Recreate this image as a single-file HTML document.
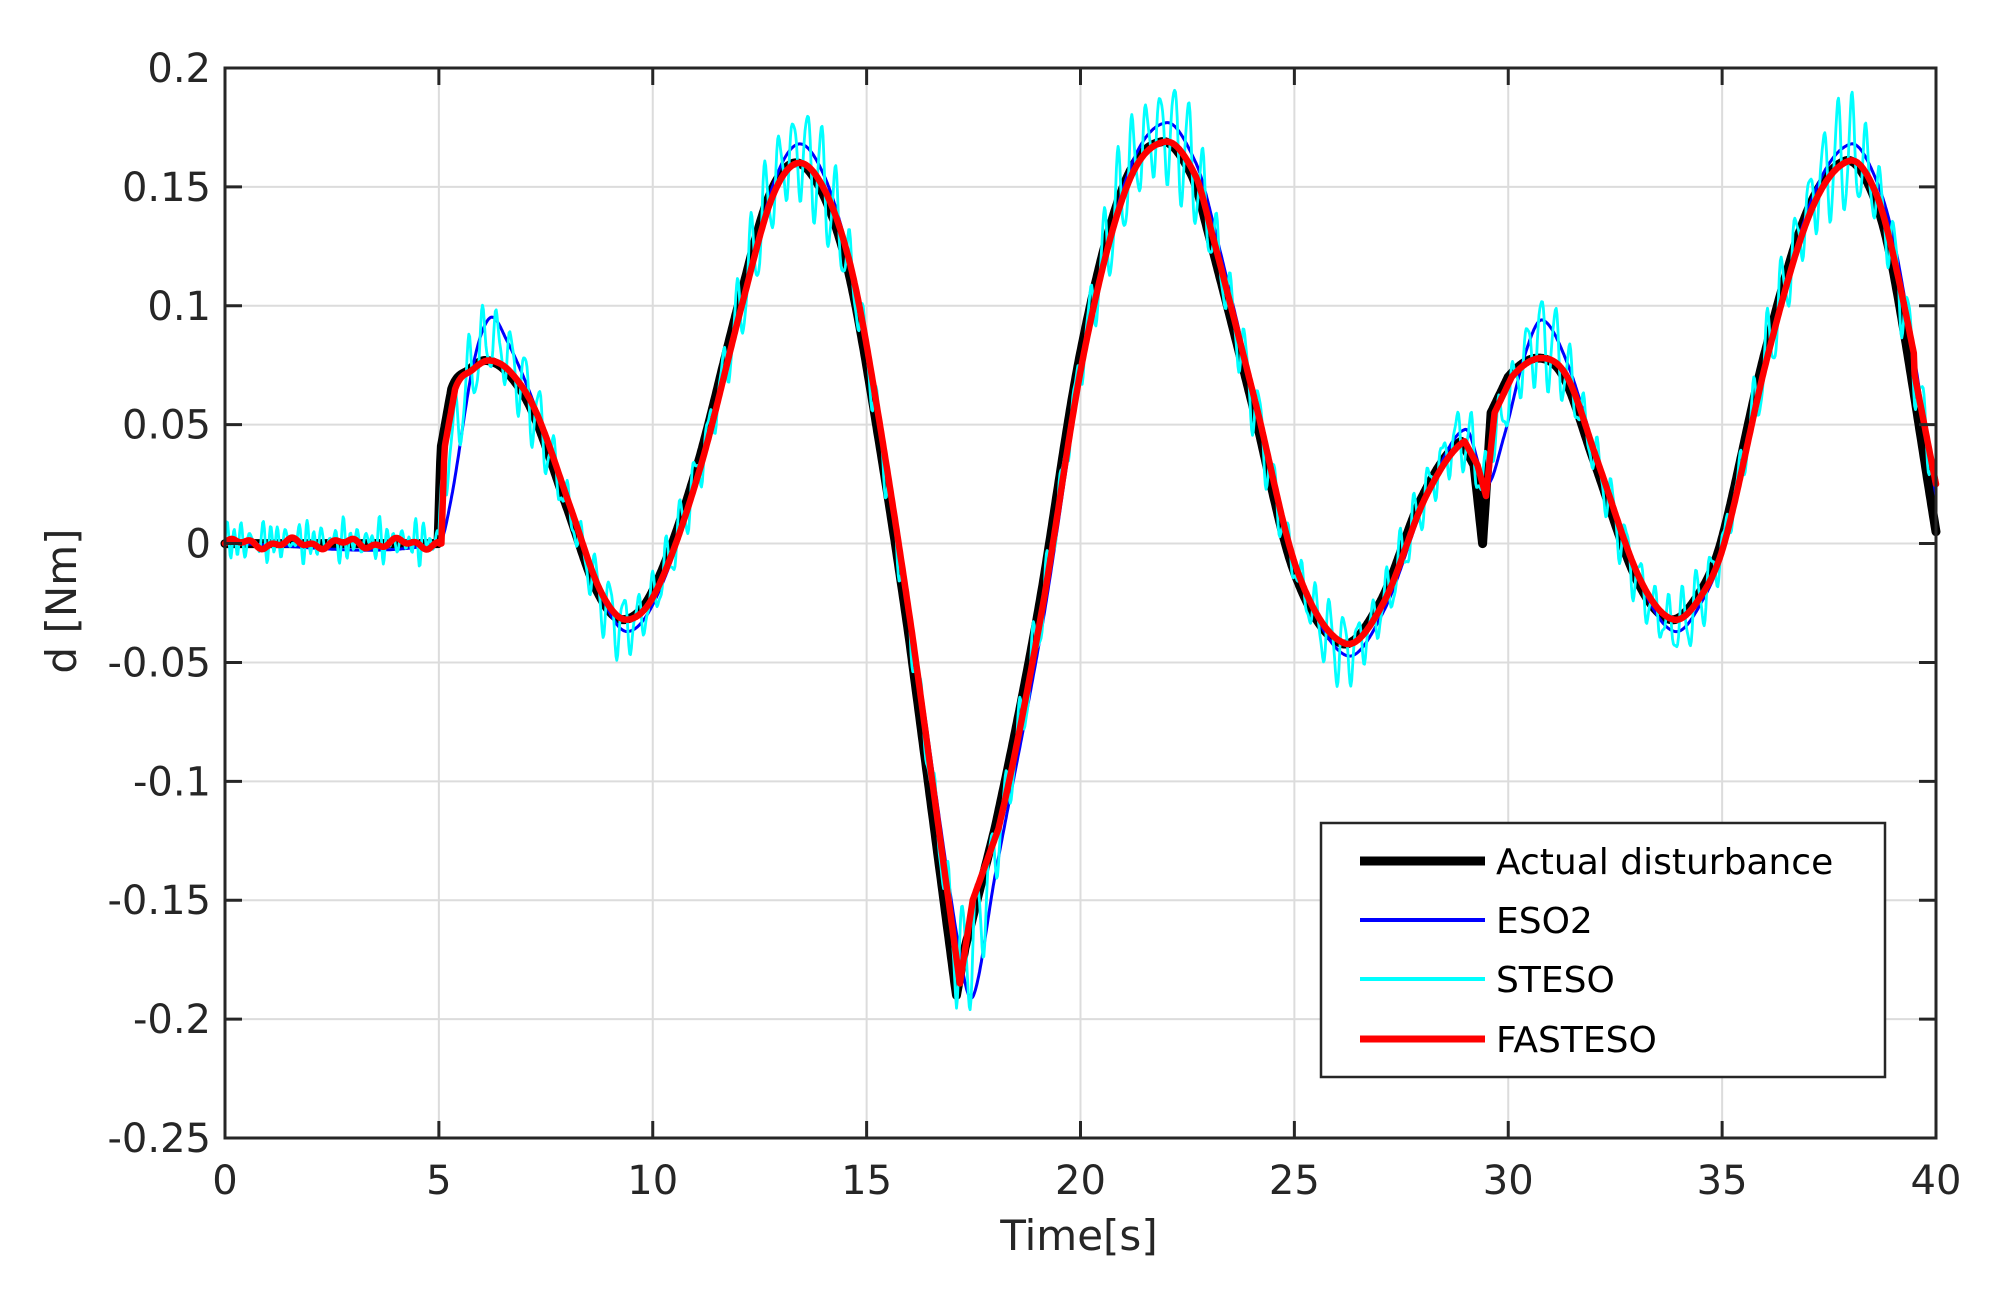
<!DOCTYPE html>
<html><head><meta charset="utf-8"><style>
html,body{margin:0;padding:0;background:#fff}
svg{display:block}
text{font-family:"DejaVu Sans","Liberation Sans",sans-serif;fill:#262626}
</style></head><body>
<svg id="s" width="1999" height="1298" viewBox="0 0 1999 1298" xmlns="http://www.w3.org/2000/svg">
<rect width="1999" height="1298" fill="#fff"/>
<g id="grid" stroke="#dcdcdc" stroke-width="2"></g>
<g id="series" fill="none" stroke-linejoin="round" stroke-linecap="round"></g>
<g id="axes" stroke="#262626" stroke-width="3" fill="none"></g>
<g id="labels" font-size="40"></g>
<text x="1079" y="1250" font-size="42" text-anchor="middle">Time[s]</text>
<text transform="translate(76,601) rotate(-90)" font-size="42" text-anchor="middle">d [Nm]</text>
<rect x="1321" y="823" width="564" height="254" fill="#fff" stroke="#262626" stroke-width="2.5"/>
<line x1="1360" y1="861" x2="1485" y2="861" stroke="#000" stroke-width="9"/>
<line x1="1360" y1="920" x2="1485" y2="920" stroke="#0000ff" stroke-width="4"/>
<line x1="1360" y1="979" x2="1485" y2="979" stroke="#00ffff" stroke-width="4"/>
<line x1="1360" y1="1039" x2="1485" y2="1039" stroke="#ff0000" stroke-width="7"/>
<g font-size="36" style="fill:#000">
<text x="1496" y="874" style="fill:#000">Actual disturbance</text>
<text x="1496" y="933" style="fill:#000">ESO2</text>
<text x="1496" y="992" style="fill:#000">STESO</text>
<text x="1496" y="1052" style="fill:#000">FASTESO</text>
</g>
</svg>
<script>
var X0=225,X1=1936,Y0=68,Y1=1138;
function X(t){return X0+t*(X1-X0)/40}
function Y(v){return Y0+(0.2-v)*(Y1-Y0)/0.45}
var NS="http://www.w3.org/2000/svg";
function el(p,n,a){var e=document.createElementNS(NS,n);for(var k in a)e.setAttribute(k,a[k]);p.appendChild(e);return e}
var grid=document.getElementById('grid'),axes=document.getElementById('axes'),lab=document.getElementById('labels');
for(var i=0;i<=8;i++){var x=X(i*5);if(i>0&&i<8)el(grid,'line',{x1:x,y1:Y0,x2:x,y2:Y1});
 el(axes,'line',{x1:x,y1:Y1,x2:x,y2:Y1-17});el(axes,'line',{x1:x,y1:Y0,x2:x,y2:Y0+17});
 var t=el(lab,'text',{x:x,y:Y1+56,'text-anchor':'middle'});t.textContent=String(i*5);}
var yl=['0.2','0.15','0.1','0.05','0','-0.05','-0.1','-0.15','-0.2','-0.25'];
for(var j=0;j<10;j++){var v=0.2-j*0.05,y=Y(v);if(j>0&&j<9)el(grid,'line',{x1:X0,y1:y,x2:X1,y2:y});
 el(axes,'line',{x1:X0,y1:y,x2:X0+17,y2:y});el(axes,'line',{x1:X1,y1:y,x2:X1-17,y2:y});
 var t=el(lab,'text',{x:X0-14,y:y+14,'text-anchor':'end'});t.textContent=yl[j];}
el(axes,'rect',{x:X0,y:Y0,width:X1-X0,height:Y1-Y0});
function interp(P){return function(t){if(t<=P[0][0])return P[0][1];
 for(var i=0;i<P.length-1;i++){if(t<=P[i+1][0]){var p0=P[Math.max(i-1,0)],p1=P[i],p2=P[i+1],p3=P[Math.min(i+2,P.length-1)];
 var u=(t-p1[0])/(p2[0]-p1[0]);
 var m1=(p2[1]-p0[1])/(p2[0]-p0[0]||1)*(p2[0]-p1[0]),m2=(p3[1]-p1[1])/(p3[0]-p1[0]||1)*(p2[0]-p1[0]);
 if(p1[2]||p2[2]){m1=p2[1]-p1[1];m2=m1;}
 var u2=u*u,u3=u2*u;return (2*u3-3*u2+1)*p1[1]+(u3-2*u2+u)*m1+(-2*u3+3*u2)*p2[1]+(u3-u2)*m2;}}return P[P.length-1][1];}}
var A=[[0,0],[4.98,0,1],[5.05,0.04,1],[5.3,0.065],[5.7,0.073],[6.1,0.077],[6.6,0.072],[7.2,0.055],[8,0.015],[8.7,-0.02],[9.3,-0.032],[10,-0.02],[11,0.03],[12,0.1],[12.7,0.145],[13.3,0.16],[13.9,0.15],[14.5,0.12],[15,0.075],[16,-0.04],[17.1,-0.19,1],[17.3,-0.17,1],[18,-0.12],[19,-0.03],[20,0.08],[21,0.15],[21.9,0.169],[22.6,0.155],[23,0.13],[24,0.06],[25,-0.012],[26.1,-0.042],[27,-0.025],[28,0.02],[28.9,0.043],[29.2,0.033,1],[29.4,0,1],[29.6,0.055,1],[30,0.07],[30.7,0.078],[31.3,0.07],[32,0.035],[33,-0.015],[33.8,-0.032],[34.5,-0.02],[35,0.002],[36,0.08],[37,0.14],[37.9,0.161],[38.5,0.148],[39,0.115],[40,0.005]];
var R=A.map(function(p){return p.slice()});
R.forEach(function(p){if(p[0]>=39.9)p[1]=0.025;if(p[0]==17.1)p[1]=-0.185;if(p[0]==17.3){p[0]=17.4;p[1]=-0.15;}if(p[0]==29.4){p[1]=0.02;}});
var fa=interp(A),fr0=interp(R);
function fr(t){if(t<5)return 0.0015*Math.sin(t*5)+0.001*Math.sin(t*13);if(t>39.5)return fr0(t);return fr0(t-0.08);}
var B=[[0,0],[5.0,0],[5.3,0.02],[5.8,0.075],[6.2,0.095],[6.6,0.085],[7.2,0.06],[8,0.018],[8.8,-0.022],[9.4,-0.037],[10.1,-0.022],[11.1,0.03],[12.1,0.1],[12.8,0.15],[13.4,0.168],[14,0.155],[14.6,0.12],[15.1,0.075],[16.1,-0.04],[17.2,-0.175],[17.5,-0.19],[18,-0.14],[19.1,-0.035],[20.1,0.08],[21.1,0.155],[22,0.177],[22.7,0.16],[23.1,0.135],[24.1,0.06],[25.1,-0.012],[26.2,-0.047],[27.1,-0.028],[28.1,0.02],[29,0.048],[29.5,0.025],[29.9,0.045],[30.4,0.08],[30.8,0.094],[31.4,0.075],[32.1,0.035],[33.1,-0.017],[33.9,-0.037],[34.6,-0.022],[35.1,0.002],[36.1,0.08],[37.1,0.145],[38,0.168],[38.6,0.153],[39.1,0.12],[40,0.02]];
var fb=interp(B);
function path(f,col,w,dt){var d='',n=0;for(var t=0;t<=40.0001;t+=dt){var v=f(t);d+=(n++?'L':'M')+X(t).toFixed(1)+' '+Y(v).toFixed(1);}
 el(document.getElementById('series'),'path',{d:d,stroke:col,'stroke-width':w});}
function fc(t){var base=fb(t)*0.5+fr0(t)*0.5;var amp;if(t<5){amp=0.008*(0.6+0.4*Math.sin(t*7.3));return 0.001+amp*Math.sin(2*Math.PI*t/0.17)+0.003*Math.sin(t*23.1);}
 var sl=Math.abs(fa(t+0.05)-fa(t-0.05))/0.1;amp=0.01+Math.abs(fb(t))*0.06-Math.min(sl*0.03,0.005);
 amp*=1+0.25*Math.sin(t*3.7);
 return base+amp*Math.sin(2*Math.PI*t/0.33)+0.003*Math.sin(t*41);}
path(fa,'#000',9,0.02);
path(fb,'#0000ff',3,0.02);
path(fc,'#00ffff',2.8,0.02);
path(fr,'#ff0000',6.5,0.02);
</script>
</body></html>
